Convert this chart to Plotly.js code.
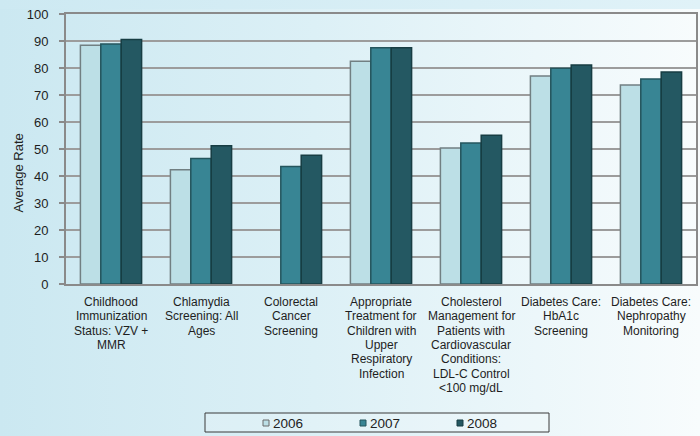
<!DOCTYPE html>
<html>
<head>
<meta charset="utf-8">
<script src="https://cdn.plot.ly/plotly-3.0.1.min.js"></script>
<style>
  html, body { margin: 0; padding: 0; }
  body {
    width: 700px; height: 436px; overflow: hidden;
    background:
      linear-gradient(to right, #cde9f2, #e0f2f8) top left / 100% 9px no-repeat,
      linear-gradient(to right, #cbe8f1 0%, #dcf0f6 45%, #f8fcfd 100%);
  }
  #chart { width: 700px; height: 436px; }
</style>
</head>
<body>
<div id="chart"></div>
<script>
// HEDIS-style quality measures, average rate per year
const categories = [
  "Childhood<br>Immunization<br>Status: VZV +<br>MMR",
  "Chlamydia<br>Screening: All<br>Ages",
  "Colorectal<br>Cancer<br>Screening",
  "Appropriate<br>Treatment for<br>Children with<br>Upper<br>Respiratory<br>Infection",
  "Cholesterol<br>Management for<br>Patients with<br>Cardiovascular<br>Conditions:<br>LDL-C Control<br>&lt;100 mg/dL",
  "Diabetes Care:<br>HbA1c<br>Screening",
  "Diabetes Care:<br>Nephropathy<br>Monitoring"
];
const years = ["2006", "2007", "2008"];
const rate2006 = [88.4, 42.3, null, 82.5, 50.4, 77.0, 73.7];
const rate2007 = [88.9, 46.5, 43.5, 87.5, 52.2, 79.9, 75.9];
const rate2008 = [90.6, 51.2, 47.7, 87.5, 55.1, 81.1, 78.5];
const yTicks = [0, 10, 20, 30, 40, 50, 60, 70, 80, 90, 100];

const fills = ["#bcdfe6", "#388594", "#245862"];
const edges = ["#717f82", "#24555d", "#173d43"];
const series = [rate2006, rate2007, rate2008];

const FONT = "Liberation Sans, Arial, sans-serif";
const W = 700, H = 436;
const M = { l: 66, r: 4, t: 14, b: 152 };
const plotW = W - M.l - M.r, plotH = H - M.t - M.b;
const px2x = p => (p - M.l) / plotW;
const py2y = p => (H - M.b - p) / plotH;

const traces = years.map((yr, i) => ({
  type: "bar",
  name: yr,
  x: categories,
  y: series[i],
  marker: { color: fills[i], line: { color: edges[i], width: 1.5 } },
  hoverinfo: "skip"
}));

const shapes = [];
const annotations = [{
  xref: "paper", yref: "paper", x: px2x(17.5), y: py2y(173),
  xanchor: "center", yanchor: "middle",
  text: "Average Rate", textangle: -90, showarrow: false,
  font: { family: FONT, size: 13, color: "#222" }
}];

// category labels, one line at a time for a tighter line pitch
categories.forEach(cat => {
  cat.split("<br>").forEach((line, k) => {
    annotations.push({
      xref: "x", yref: "paper", x: cat, y: py2y(302 + 14.3 * k),
      xanchor: "center", yanchor: "middle", text: line, showarrow: false,
      font: { family: FONT, size: 12, color: "#1e1e1e" }
    });
  });
});

// legend drawn as a framed row of small swatches
shapes.push({
  type: "rect", xref: "paper", yref: "paper",
  x0: px2x(205), x1: px2x(549), y0: py2y(432), y1: py2y(413),
  line: { color: "#3a3a3a", width: 1 }, fillcolor: "rgba(255,255,255,0.15)"
});
years.forEach((yr, i) => {
  const cx = 266 + 97 * i;
  shapes.push({
    type: "rect", xref: "paper", yref: "paper",
    x0: px2x(cx - 3), x1: px2x(cx + 3), y0: py2y(426), y1: py2y(420),
    fillcolor: fills[i], line: { color: i === 0 ? "#6a6a6a" : edges[i], width: 1 }
  });
  annotations.push({
    xref: "paper", yref: "paper", x: px2x(cx + 4.5), y: py2y(423),
    xanchor: "left", yanchor: "middle", text: yr, showarrow: false,
    font: { family: FONT, size: 13.5, color: "#222" }
  });
});

const layout = {
  width: W, height: H,
  margin: M,
  paper_bgcolor: "rgba(0,0,0,0)",
  plot_bgcolor: "rgba(0,0,0,0)",
  font: { family: FONT, size: 12, color: "#222" },
  barmode: "group",
  bargap: 0.32,
  bargroupgap: 0,
  showlegend: false,
  xaxis: {
    type: "category",
    showline: true, mirror: true, linecolor: "#8a8a8a", linewidth: 2,
    showgrid: false, ticks: "", showticklabels: false,
    automargin: false, fixedrange: true
  },
  yaxis: {
    range: [0, 100],
    tickvals: yTicks,
    showline: true, mirror: true, linecolor: "#8a8a8a", linewidth: 2,
    showgrid: true, gridcolor: "#9c9c9c", gridwidth: 1.5,
    zeroline: false,
    ticks: "outside", ticklen: 5, tickcolor: "#8a8a8a", tickwidth: 1.5,
    tickfont: { size: 13, color: "#1e1e1e" },
    ticklabelstandoff: 8,
    automargin: false, fixedrange: true
  },
  shapes: shapes,
  annotations: annotations
};

Plotly.newPlot("chart", traces, layout, { displayModeBar: false, staticPlot: true });
</script>
</body>
</html>
